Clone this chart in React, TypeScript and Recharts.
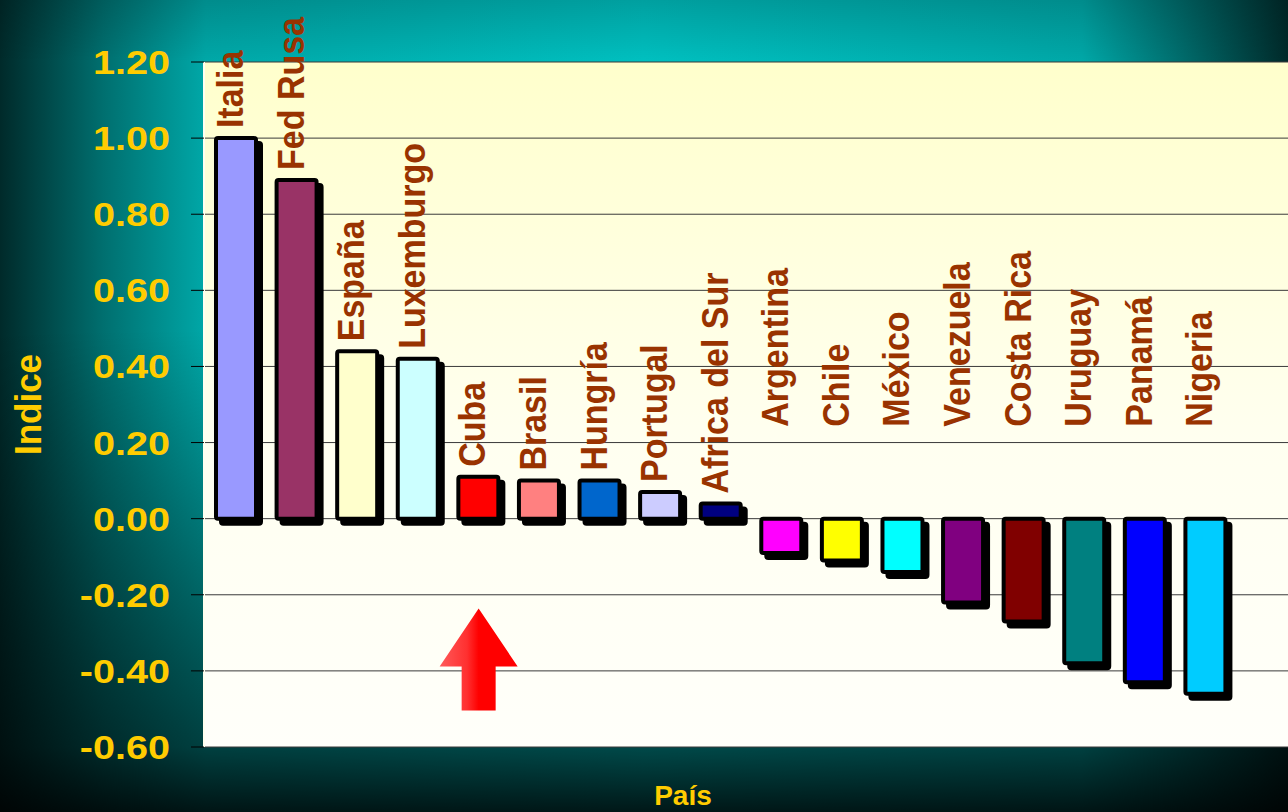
import React from "react";
import {
  BarChart,
  Bar,
  Cell,
  XAxis,
  YAxis,
  CartesianGrid,
  LabelList,
  Label,
  ReferenceDot,
} from "recharts";

const paises = [
  "Italia", "Fed Rusa", "España", "Luxemburgo", "Cuba", "Brasil", "Hungría",
  "Portugal", "Africa del Sur", "Argentina", "Chile", "México", "Venezuela",
  "Costa Rica", "Uruguay", "Panamá", "Nigeria",
];

const indices = [
  1.0, 0.89, 0.44, 0.42, 0.11, 0.1, 0.1, 0.07, 0.04,
  -0.09, -0.11, -0.14, -0.22, -0.27, -0.38, -0.43, -0.46,
];

const colores = [
  "#9999FF", "#993366", "#FFFFCC", "#CCFFFF", "#FF0000", "#FF8080", "#0066CC",
  "#CCCCFF", "#000080", "#FF00FF", "#FFFF00", "#00FFFF", "#800080",
  "#800000", "#008080", "#0000FF", "#00CCFF",
];

const yTicks = [-0.6, -0.4, -0.2, 0, 0.2, 0.4, 0.6, 0.8, 1.0, 1.2];

// flecha que señala a Cuba
const flechaPais = "Cuba";
const flechaNivel = -0.37;

const data = paises.map((pais, i) => ({ pais, indice: indices[i] }));

const ANCHO = 1288;
const ALTO = 812;
const AMARILLO = "#FFCC00";
const MARRON = "#993300";
const FUENTE = "'Liberation Sans', Arial, sans-serif";

function BarraSombra(props: any) {
  const { x, y, width, height, fill } = props;
  const top = Math.min(y, y + height);
  const h = Math.abs(height);
  return (
    <g>
      <rect x={x + 5} y={top + 5} width={width} height={h} fill="#000" stroke="#000" strokeWidth={4} rx={2} />
      <rect x={x} y={top} width={width} height={h} fill={fill} stroke="#000" strokeWidth={4} rx={2} />
    </g>
  );
}

function EtiquetaPais(props: any) {
  const { x, y, width, height, value, index } = props;
  const top = Math.min(y, y + height);
  const negativo = indices[index] < 0;
  const bx = x + width / 2 + 7;
  const by = top - (negativo ? 92 : 10);
  return (
    <text
      transform={`translate(${bx} ${by}) scale(1.06 1) rotate(-90)`}
      fill={MARRON}
      fontFamily={FUENTE}
      fontWeight="bold"
      fontSize={34}
    >
      {value}
    </text>
  );
}

function TickY({ x, y, payload }: any) {
  return (
    <text
      transform={`translate(${x} ${y + 12}) scale(1.2 1)`}
      textAnchor="end"
      fill={AMARILLO}
      fontFamily={FUENTE}
      fontWeight="bold"
      fontSize={33}
    >
      {Number(payload.value).toFixed(2)}
    </text>
  );
}

function Flecha({ cx, cy }: any) {
  const pts = [
    [cx, cy - 51],
    [cx + 39, cy + 7],
    [cx + 17, cy + 7],
    [cx + 17, cy + 51],
    [cx - 17, cy + 51],
    [cx - 17, cy + 7],
    [cx - 39, cy + 7],
  ];
  return <polygon points={pts.map((p) => p.join(",")).join(" ")} fill="url(#flechaRoja)" />;
}

export default function App() {
  return (
    <div
      style={{
        position: "relative",
        width: ANCHO,
        height: ALTO,
        overflow: "hidden",
        background:
          "linear-gradient(to bottom, rgba(0,0,0,0.17) 0px, rgba(0,0,0,0) 62px, rgba(0,0,0,0) 330px, rgba(0,0,0,0.62) 747px, rgba(0,0,0,0.88) 812px)," +
          "linear-gradient(to right, #002a2a 0%, #006f6f 8%, #00a8a8 16%, #00c0c0 50%, #00a8a8 84%, #006a6a 92%, #002a2a 100%)",
      }}
    >
      <style>{"body{margin:0}"}</style>
      <BarChart
        width={ANCHO}
        height={ALTO}
        data={data}
        margin={{ top: 62, right: 0, bottom: 0, left: 0 }}
        barSize={40}
      >
        <defs>
          <linearGradient id="fondoPlot" x1="0" y1="0" x2="0" y2="1">
            <stop offset="0%" stopColor="#FFFFCC" />
            <stop offset="55%" stopColor="#FFFFF0" />
            <stop offset="100%" stopColor="#FFFFFA" />
          </linearGradient>
          <linearGradient id="flechaRoja" x1="0" y1="0" x2="1" y2="0">
            <stop offset="0%" stopColor="#FF5a5a" />
            <stop offset="35%" stopColor="#FF3030" />
            <stop offset="50%" stopColor="#FF0000" />
            <stop offset="100%" stopColor="#FF0000" />
          </linearGradient>
        </defs>
        <CartesianGrid vertical={false} stroke="#3a3a3a" fill="url(#fondoPlot)" fillOpacity={1} />
        <XAxis
          dataKey="pais"
          type="category"
          height={65}
          tick={false}
          tickLine={false}
          axisLine={false}
          padding={{ left: 2, right: 52 }}
        >
          <Label
            content={({ viewBox }: any) => (
              <text
                x={viewBox.x + 479}
                y={viewBox.y + 58}
                textAnchor="middle"
                fill={AMARILLO}
                fontFamily={FUENTE}
                fontWeight="bold"
                fontSize={28}
              >
                País
              </text>
            )}
          />
        </XAxis>
        <YAxis
          type="number"
          domain={[-0.6, 1.2]}
          ticks={yTicks}
          interval={0}
          width={204}
          tickSize={13}
          tickMargin={21}
          tickLine={{ stroke: "#000" }}
          axisLine={{ stroke: "#FFFFF0", strokeWidth: 2 }}
          tick={<TickY />}
          allowDataOverflow
        >
          <Label
            content={({ viewBox }: any) => {
              const lx = viewBox.x + 41;
              const ly = viewBox.y + viewBox.height / 2;
              return (
                <text
                  transform={`translate(${lx} ${ly}) scale(1.08 1) rotate(-90)`}
                  textAnchor="middle"
                  fill={AMARILLO}
                  fontFamily={FUENTE}
                  fontWeight="bold"
                  fontSize={35}
                >
                  Indice
                </text>
              );
            }}
          />
        </YAxis>
        <Bar dataKey="indice" shape={<BarraSombra />} isAnimationActive={false}>
          {data.map((_, i) => (
            <Cell key={i} fill={colores[i]} />
          ))}
          <LabelList dataKey="pais" content={<EtiquetaPais />} />
        </Bar>
        <ReferenceDot x={flechaPais} y={flechaNivel} shape={<Flecha />} />
      </BarChart>
    </div>
  );
}
